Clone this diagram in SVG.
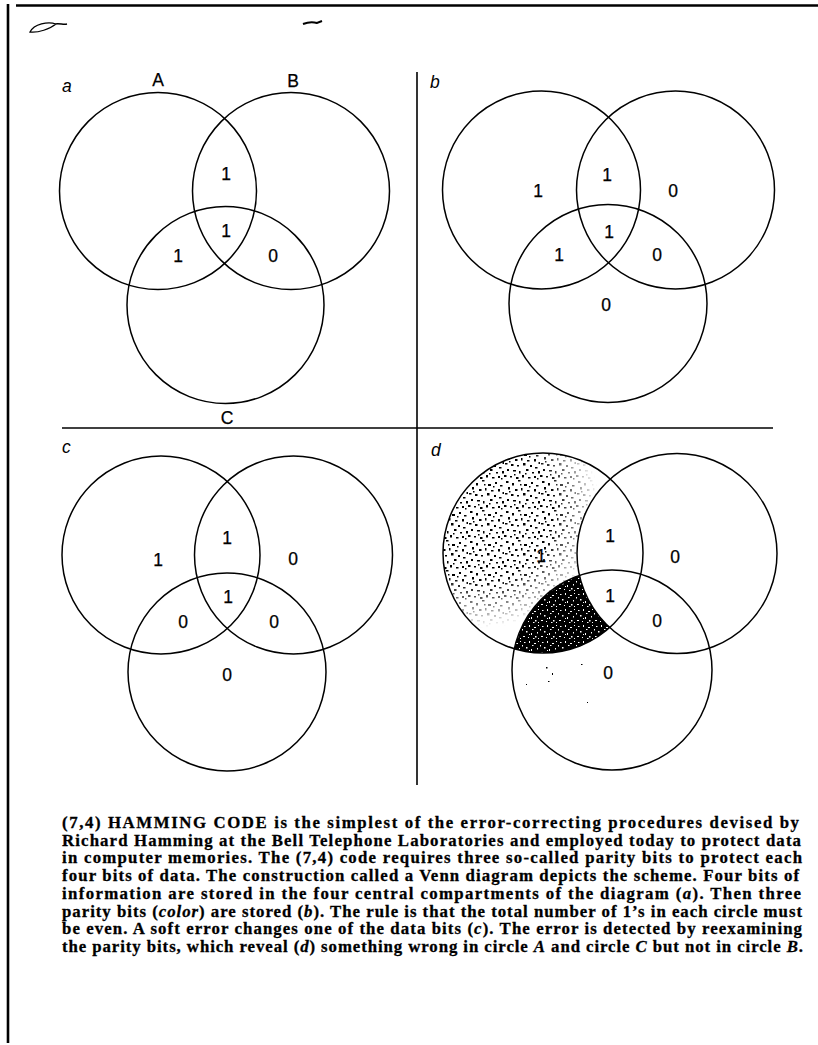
<svg xmlns="http://www.w3.org/2000/svg" width="818" height="1045" viewBox="0 0 818 1045">
<style>
.c{fill:none;stroke:#000;stroke-width:1.5}
.n{font-family:"Liberation Sans",Arial,sans-serif;font-size:17.5px;fill:#000;stroke:#000;stroke-width:0.25;text-anchor:middle}
.p{font-family:"Liberation Sans",Arial,sans-serif;font-size:17.5px;font-style:italic;fill:#000}
.cap{font-family:"Liberation Serif","Times New Roman",serif;font-size:16.8px;font-weight:bold;fill:#000;stroke:#000;stroke-width:0.3}
.i{font-style:italic}
.rule{stroke:#000;fill:none}
</style>
<defs>
<pattern id="stip" width="36" height="30" patternUnits="userSpaceOnUse">
<path fill="#000" d="M2,1h2.5v2h-2.5zM8,3h2v2.5h-2zM14,0h2.5v1.5h-2.5zM20,4h3v2h-3zM27,2h2v2h-2zM32,5h2.5v1.5h-2.5zM4,7h2v2.5h-2zM11,9h2.5v2h-2.5zM17,8h1.5v2.5h-1.5zM23,10h2.5v1.5h-2.5zM30,9h2v2.5h-2zM34.5,12h1.5v2h-1.5zM1,13h2.5v1.5h-2.5zM7,14h2.5v2h-2.5zM13,15h2v1.5h-2zM19,13h2.5v2.5h-2.5zM26,15h2v2h-2zM31,17h2.5v1.5h-2.5zM3,19h2v2h-2zM9,20h3v1.5h-3zM15,21h1.5v2.5h-1.5zM22,19h2.5v2h-2.5zM28,22h2v1.5h-2zM34,21h2v2.5h-2zM0,25h2.5v2h-2.5zM6,26h2v1.5h-2zM12,27h2.5v2h-2.5zM18,25h2v2.5h-2zM24,27h2.5v1.5h-2.5zM30,26h2v2h-2zM5,11h1.5v1.5h-1.5zM16,4h1.5v1.5h-1.5zM25,6h1.5v1.5h-1.5zM10,24h1.5v1.5h-1.5zM21,23h1.5v1.5h-1.5zM33,28h1.5v1.5h-1.5z"/>
</pattern>
<pattern id="dark" width="18" height="16" patternUnits="userSpaceOnUse">
<rect width="18" height="16" fill="#000"/>
<path fill="#fff" d="M2,2h1.5v1h-1.5zM7,1h1v2h-1zM12,3h2v1h-2zM15,8h1v1.5h-1zM4,7h1.5v1.5h-1.5zM9,9h1v2h-1zM1,12h2v1h-2zM6,13h1v1h-1zM13,12h1.5v1.5h-1.5zM16,14h1v1h-1zM10,5h1.5v1h-1.5zM0,5h1v1.5h-1zM16,1h1v1h-1zM11,14h1.5v1h-1.5zM7,10h1v1h-1z"/>
</pattern>
<radialGradient id="fade" gradientUnits="userSpaceOnUse" cx="482" cy="510" r="118">
<stop offset="0" stop-color="#fff"/>
<stop offset="0.6" stop-color="#fff"/>
<stop offset="1" stop-color="#000"/>
</radialGradient>
<mask id="mA" maskUnits="userSpaceOnUse" x="0" y="0" width="818" height="1045">
<rect width="818" height="1045" fill="#000"/>
<circle cx="543" cy="553" r="100" fill="url(#fade)"/>
<circle cx="677" cy="553.5" r="100" fill="#000"/>
<circle cx="612" cy="670" r="100" fill="#000"/>
</mask>
<mask id="mC" maskUnits="userSpaceOnUse" x="0" y="0" width="818" height="1045">
<rect width="818" height="1045" fill="#000"/>
<circle cx="612" cy="670" r="100" fill="#fff"/>
<circle cx="677" cy="553.5" r="100" fill="#000"/>
</mask>
<clipPath id="clA"><circle cx="543" cy="553" r="100"/></clipPath>
</defs>
<rect width="818" height="1045" fill="#fff"/>

<g id="frame">
<line class="rule" x1="16" y1="5.5" x2="818" y2="5.5" stroke-width="2.6"/>
<line class="rule" x1="8" y1="4" x2="8" y2="1043" stroke-width="2.6"/>
<path class="rule" stroke-width="1.3" d="M30,32 C34,24 48,21 56,24 C50,29 38,33 30,32 Z M55,24 C60,23 63,25 67,24"/>
<path class="rule" stroke-width="2" d="M303,24 C308,22 314,22 317,23 L322,21"/>
</g>

<g id="dividers">
<line class="rule" x1="62" y1="428" x2="773" y2="428" stroke-width="1.6"/>
<line class="rule" x1="417" y1="72" x2="417" y2="785" stroke-width="1.6"/>
</g>

<g id="panel-a">
<text class="p" x="62" y="92">a</text>
<g id="a-circleA"><circle class="c" cx="158" cy="191" r="98.5"/><text class="n" x="158" y="86">A</text></g>
<g id="a-circleB"><circle class="c" cx="291" cy="191" r="98.5"/><text class="n" x="293" y="87">B</text></g>
<g id="a-circleC"><circle class="c" cx="225.5" cy="305" r="98.5"/><text class="n" x="227" y="424">C</text></g>
<text class="n" x="226" y="180">1</text>
<text class="n" x="226" y="237">1</text>
<text class="n" x="178" y="262">1</text>
<text class="n" x="273" y="262">0</text>
</g>

<g id="panel-b">
<text class="p" x="430" y="88">b</text>
<g id="b-circleA"><circle class="c" cx="541.5" cy="190" r="99"/></g>
<g id="b-circleB"><circle class="c" cx="675.5" cy="190" r="99"/></g>
<g id="b-circleC"><circle class="c" cx="608" cy="303.5" r="99"/></g>
<text class="n" x="538" y="197">1</text>
<text class="n" x="607" y="180.5">1</text>
<text class="n" x="673" y="197">0</text>
<text class="n" x="609" y="237.5">1</text>
<text class="n" x="559" y="260.5">1</text>
<text class="n" x="657" y="260.5">0</text>
<text class="n" x="606" y="310.5">0</text>
</g>

<g id="panel-c">
<text class="p" x="62" y="453">c</text>
<g id="c-circleA"><circle class="c" cx="161" cy="555" r="99"/></g>
<g id="c-circleB"><circle class="c" cx="293.5" cy="555" r="99"/></g>
<g id="c-circleC"><circle class="c" cx="227" cy="672" r="99"/></g>
<text class="n" x="158" y="566">1</text>
<text class="n" x="227" y="543.5">1</text>
<text class="n" x="293" y="564.5">0</text>
<text class="n" x="228" y="602.5">1</text>
<text class="n" x="183" y="627.5">0</text>
<text class="n" x="274" y="627.5">0</text>
<text class="n" x="227" y="680.5">0</text>
</g>

<g id="panel-d">
<text class="p" x="431" y="456">d</text>
<rect x="440" y="450" width="210" height="210" fill="url(#stip)" mask="url(#mA)"/>
<g clip-path="url(#clA)"><rect x="500" y="560" width="150" height="100" fill="url(#dark)" mask="url(#mC)"/></g>
<path fill="#000" d="M546,667h1.5v1.5h-1.5zM552,673h1v2h-1zM548,681h1.5v1h-1.5zM581,664h1.5v1h-1.5zM587,702h1v1h-1zM526,684h1v1h-1z"/>
<g id="d-circleA"><circle class="c" cx="543" cy="553" r="100"/></g>
<g id="d-circleB"><circle class="c" cx="677" cy="553.5" r="100"/></g>
<g id="d-circleC"><circle class="c" cx="612" cy="670" r="100"/></g>
<text class="n" x="541" y="562">1</text>
<text class="n" x="610" y="542">1</text>
<text class="n" x="675" y="562.5">0</text>
<text class="n" x="610" y="602">1</text>
<text class="n" x="657" y="627">0</text>
<text class="n" x="608" y="678.5">0</text>
</g>

<g id="caption">
<text class="cap" x="62" y="828" textLength="737" lengthAdjust="spacing">(7,4) HAMMING CODE is the simplest of the error-correcting procedures devised by</text>
<text class="cap" x="62" y="845.7" textLength="739" lengthAdjust="spacing">Richard Hamming at the Bell Telephone Laboratories and employed today to protect data</text>
<text class="cap" x="62" y="863.4" textLength="740" lengthAdjust="spacing">in computer memories. The (7,4) code requires three so-called parity bits to protect each</text>
<text class="cap" x="62" y="881.1" textLength="737" lengthAdjust="spacing">four bits of data. The construction called a Venn diagram depicts the scheme. Four bits of</text>
<text class="cap" x="62" y="898.8" textLength="739" lengthAdjust="spacing">information are stored in the four central compartments of the diagram (<tspan class="i">a</tspan>). Then three</text>
<text class="cap" x="62" y="916.5" textLength="740" lengthAdjust="spacing">parity bits (<tspan class="i">color</tspan>) are stored (<tspan class="i">b</tspan>). The rule is that the total number of 1’s in each circle must</text>
<text class="cap" x="62" y="934.2" textLength="740" lengthAdjust="spacing">be even. A soft error changes one of the data bits (<tspan class="i">c</tspan>). The error is detected by reexamining</text>
<text class="cap" x="62" y="951.9" textLength="741" lengthAdjust="spacing">the parity bits, which reveal (<tspan class="i">d</tspan>) something wrong in circle <tspan class="i">A</tspan> and circle <tspan class="i">C</tspan> but not in circle <tspan class="i">B</tspan>.</text>
</g>
</svg>
